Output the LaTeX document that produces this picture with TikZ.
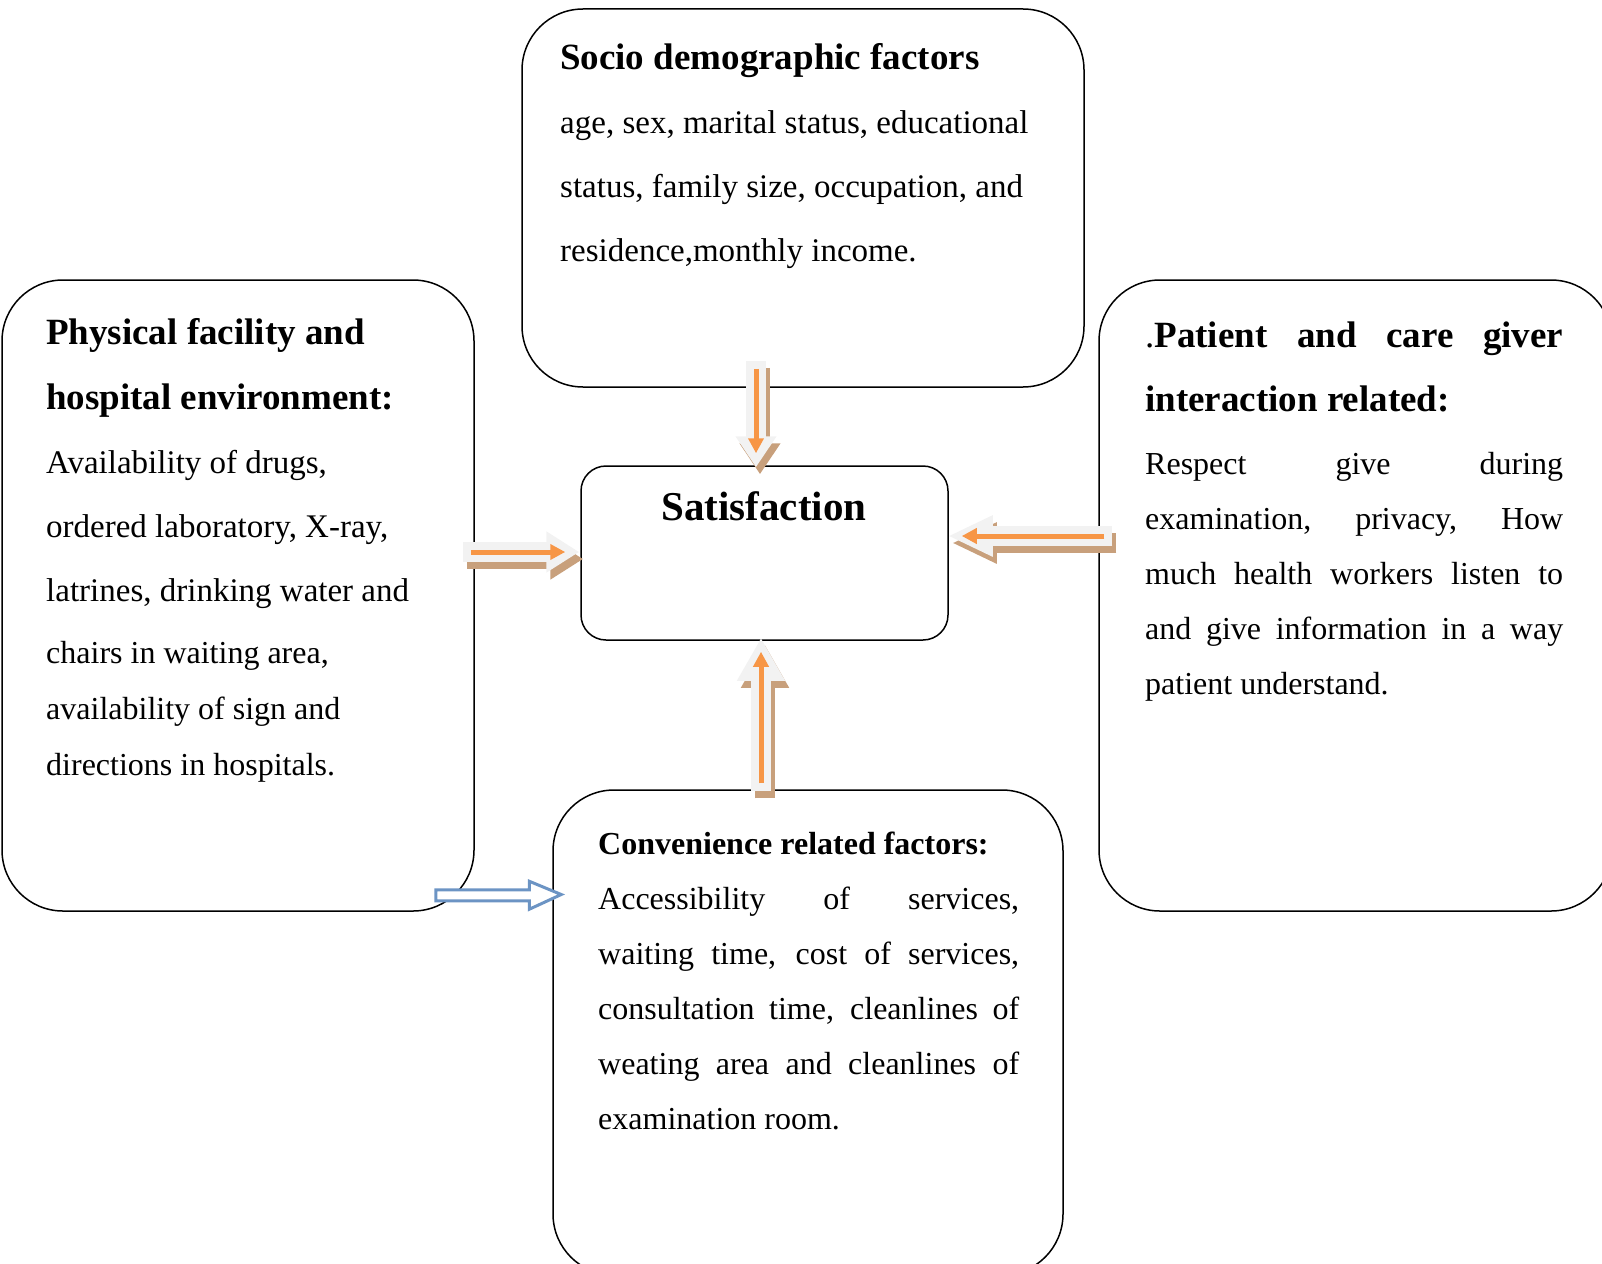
\documentclass[tikz,border=0pt]{standalone}
\usepackage{fontspec}
\setmainfont{Liberation Serif}
\usetikzlibrary{calc,arrows.meta}
\definecolor{arrowgrey}{HTML}{F2F2F2}
\definecolor{arrowshadow}{HTML}{C8A07C}
\definecolor{arroworange}{HTML}{F79646}
\definecolor{arrowblue}{HTML}{6C94C4}
\newcommand{\topstrut}{\rule{0pt}{30pt}}
\newcommand{\plainspace}{\spaceskip=0pt\xspaceskip=0pt\relax}
\tikzset{
  factorbox/.style={draw, line width=1.5pt, rounded corners=61pt, inner sep=0pt},
  boxtext/.style={anchor=north west, inner sep=0pt, align=left},
  shadowarrow/.style 2 args={draw=arrowshadow, line width=20pt, -{Triangle[length=#1pt, width=#2pt]}},
  greyarrow/.style 2 args={draw=arrowgrey, line width=20pt, -{Triangle[length=#1pt, width=#2pt]}},
  orangearrow/.style={draw=arroworange, line width=5pt, shorten <=8pt, shorten >=14pt, -{Triangle[length=15pt, width=15pt]}},
  bluearrow/.style={draw=arrowblue, line width=3pt, fill=white}
}
\begin{document}
\begin{tikzpicture}[x=1pt, y=1pt]
  \clip (0,0) rectangle (1602,-1263);

  % the five boxes
  \node[factorbox, minimum width=562pt, minimum height=378pt] (socio) at (803,-198) {};
  \node[factorbox, minimum width=472pt, minimum height=631pt] (facility) at (238,-595.5) {};
  \node[factorbox, minimum width=513pt, minimum height=631pt] (interaction) at (1355.5,-595.5) {};
  \node[factorbox, minimum width=510pt, minimum height=485pt] (convenience) at (808,-1032.5) {};
  \node[factorbox, rounded corners=25pt, minimum width=367pt, minimum height=174pt] (satisfaction) at (764.5,-553) {};

  % texts
  \node[anchor=base, font=\fontsize{41}{48}\selectfont\bfseries] (sattext) at (764,-520) {Satisfaction};
  \node[boxtext, text width=500pt] (sociotext) at (560,-39) {\plainspace\fontsize{37}{64}\selectfont\bfseries\topstrut Socio demographic factors\par
    \fontsize{33}{64}\selectfont\mdseries age, sex, marital status, educational\\ status, family size, occupation, and\\ residence,monthly income.\par};
  \node[boxtext, text width=430pt] (facilitytext) at (46,-314) {\plainspace\fontsize{37}{65}\selectfont\bfseries\topstrut Physical facility and\\ hospital environment:\par
    \fontsize{33}{64}\selectfont\mdseries Availability of drugs,\\ ordered laboratory, X-ray,\\ latrines, drinking water and\par
    \vspace{6pt}\fontsize{32}{56}\selectfont chairs in waiting area,\\ availability of sign and\\ directions in hospitals.\par};
  \node[boxtext, text width=418pt, align=justify] (interactiontext) at (1145,-317) {\plainspace\fontsize{37}{64}\selectfont\bfseries\topstrut{\mdseries .}Patient and care giver\linebreak interaction related:\par
    \vspace{8pt}\fontsize{32}{55}\selectfont\mdseries Respect give during\linebreak examination, privacy, How\linebreak much health workers listen to\linebreak and give information in a way\linebreak patient understand.\par};
  \node[boxtext, text width=421pt, align=justify] (conveniencetext) at (598,-824) {\plainspace\fontsize{32}{55}\selectfont\bfseries\topstrut Convenience related factors:\par
    \mdseries Accessibility of services,\linebreak waiting time, cost of services,\linebreak consultation time, cleanlines of\linebreak weating area and cleanlines of\linebreak examination room.\par};

  % arrow ends
  \coordinate (downS) at ($(socio.south)+(-47,27)$);
  \coordinate (downE) at ($(satisfaction.north)+(-8.5,-2)$);
  \coordinate (rightS) at ($(facility.east)+(-12,43.5)$);
  \coordinate (rightE) at ($(satisfaction.west)+(-1,1)$);
  \coordinate (leftS) at ($(interaction.west)+(14,59.5)$);
  \coordinate (leftE) at ($(satisfaction.east)+(-1,17)$);
  \coordinate (upS) at ($(convenience.north)+(-47,-2)$);
  \coordinate (upE) at ($(satisfaction.south)+(-3.5,3)$);
  \coordinate (blueS) at ($(facility.south east)+(-39,16.5)$);
  \coordinate (blueE) at ($(convenience.west)+(9,138)$);

  \foreach \from/\to/\head/\wid in {downS/downE/31/39, rightS/rightE/33/39, leftS/leftE/45/38, upS/upE/43/45} {
    \draw[shadowarrow={\head}{\wid}] ([shift={(4,-7)}]\from) -- ([shift={(4,-7)}]\to);
    \draw[greyarrow={\head}{\wid}] (\from) -- (\to);
    \draw[orangearrow] (\from) -- (\to);
  }

  \draw[bluearrow] let \p1=(blueS), \p2=(blueE) in
    (\x1,\y1+5.5) -- (\x2-32,\y1+5.5) -- (\x2-32,\y1+14) -- (\x2,\y2)
    -- (\x2-32,\y1-14) -- (\x2-32,\y1-5.5) -- (\x1,\y1-5.5) -- cycle;
\end{tikzpicture}
\end{document}
